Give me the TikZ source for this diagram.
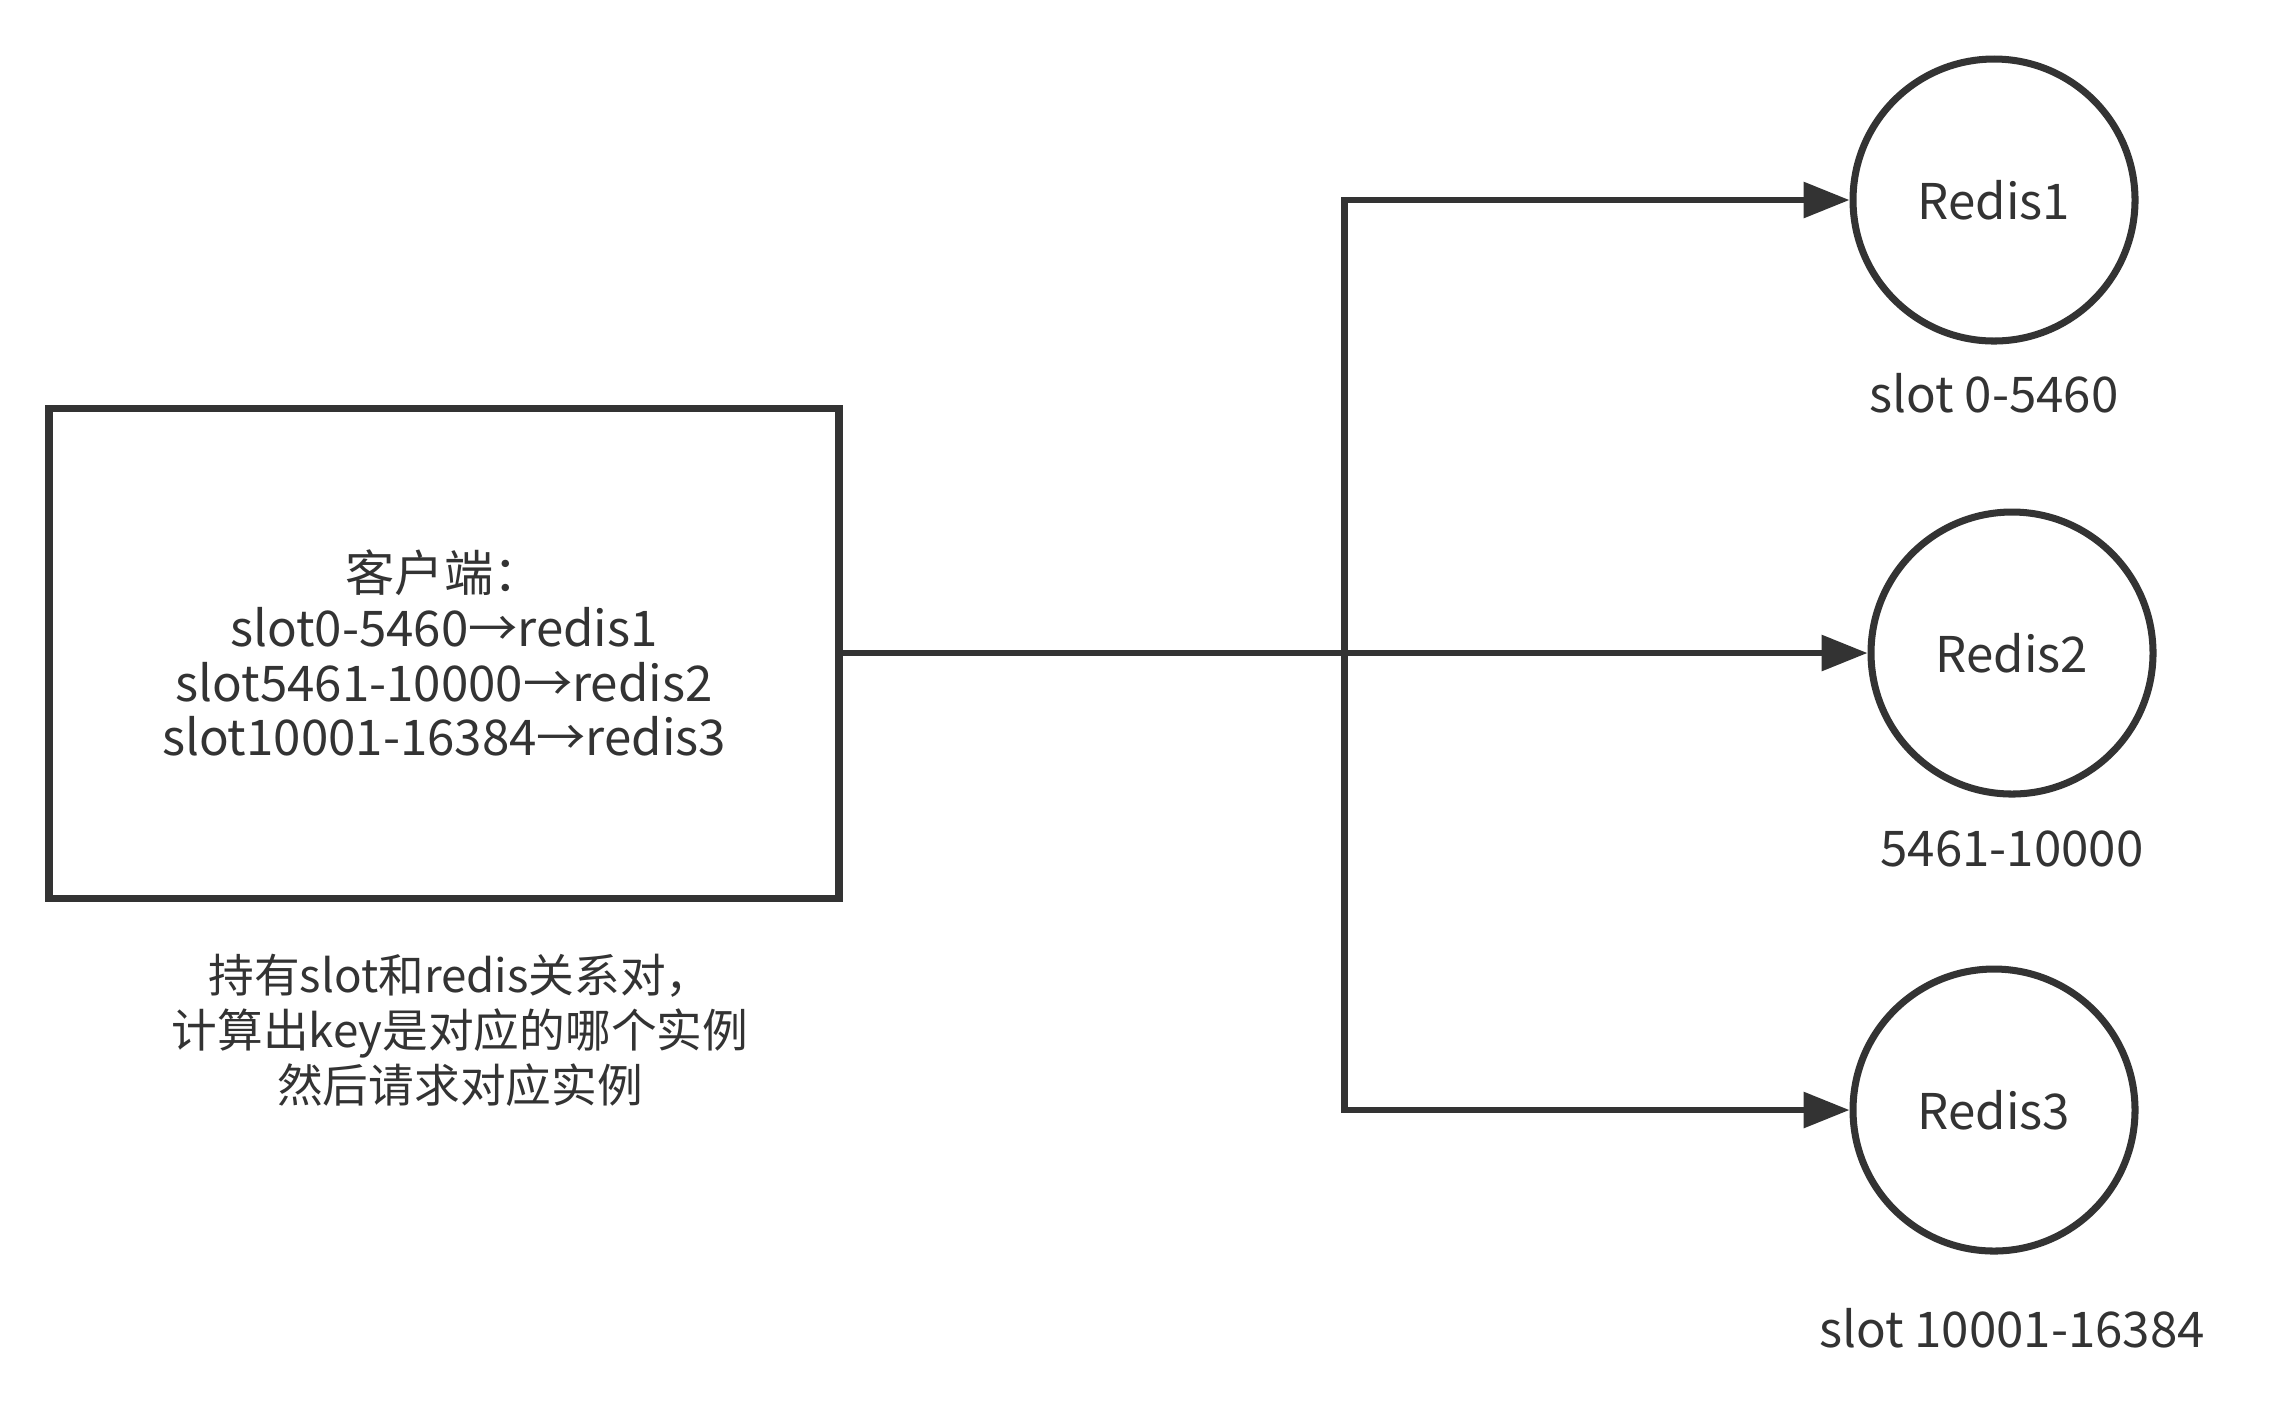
\documentclass[tikz,border=0pt]{standalone}
\usepackage{fontspec}
\setmainfont{Noto Sans CJK SC}
\usepackage{tikz}
\usetikzlibrary{positioning,arrows.meta}
\definecolor{ink}{HTML}{333333}
\tikzset{
  flowarrow/.style={-{Triangle[length=4.6mm, width=3.5mm]}, line width=1.8pt, draw=ink},
  clientbox/.style={draw=ink, line width=2pt, fill=white, minimum width=7.9cm, minimum height=4.9cm, align=center, inner sep=0pt},
  redisnode/.style={draw=ink, circle, line width=2pt, fill=white, minimum size=2.82cm, inner sep=0pt},
  slotlabel/.style={text=ink, inner sep=1pt},
  notelabel/.style={text=ink, align=center, inner sep=1pt, font=\fontsize{13pt}{15.6pt}\selectfont}
}

\begin{document}
\begin{tikzpicture}[every node/.style={font=\fontsize{14pt}{15.6pt}\selectfont, text=ink}]
  \useasboundingbox[fill=white] (0,0) rectangle (22.84,-14.16);
  \node[clientbox] (client) at (4.44,-6.53) {客户端：\\slot0-5460→redis1\\slot5461-10000→redis2\\slot10001-16384→redis3};
  \node[notelabel] (note) at (4.60,-10.30) {持有slot和redis关系对，\\计算出key是对应的哪个实例\\然后请求对应实例};
  \node[redisnode] (r1) at (19.94,-2.00) {Redis1};
  \node[redisnode] (r2) at (20.12,-6.53) {Redis2};
  \node[redisnode] (r3) at (19.94,-11.10) {Redis3};
  \node[slotlabel] (s1) at (19.94,-3.93) {slot 0-5460};
  \node[slotlabel] (s2) at (20.12,-8.49) {5461-10000};
  \node[slotlabel] (s3) at (20.12,-13.28) {slot 10001-16384};
  \coordinate (split) at (13.445,-6.53);
  \draw[flowarrow] (client.east) -- (r2.west);
  \draw[flowarrow] (split) |- (r1.west);
  \draw[flowarrow] (split) |- (r3.west);
\end{tikzpicture}
\end{document}
